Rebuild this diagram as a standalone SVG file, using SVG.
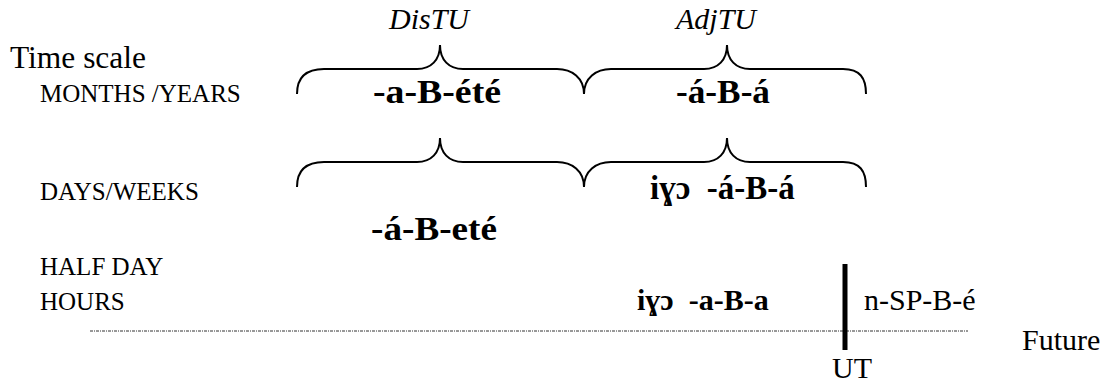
<svg xmlns="http://www.w3.org/2000/svg" width="1104" height="383" viewBox="0 0 1104 383">
  <style>
    text { font-family: "Liberation Serif", "Times New Roman", serif; fill: #000; }
    .unit { font-style: italic; font-size: 30px; }
    .scale { font-size: 25px; }
    .title { font-size: 31px; }
    .form { font-weight: bold; font-size: 33px; }
    .plain { font-size: 30px; }
    .brace { fill: none; stroke: #000; stroke-width: 2; }
    .axis { stroke: #333; stroke-width: 1; stroke-dasharray: 3 1 1 1; fill: none; }
    .ut { stroke: #000; stroke-width: 5; }
  </style>
  <defs>
    <!-- one pair of curly braces spanning both time units -->
    <path id="pair" d="M297,94 C297,78 305,69 324,69 L417,69 C431,69 440,60 440,45 C440,60 449,69 463,69 L557,69 C572,69 584,78 584,94 C584,78 596,69 611,69 L704,69 C718,69 727,60 727,45 C727,60 736,69 750,69 L843,69 C860,69 866,78 866,94"/>
  </defs>

  <g id="labels-units">
    <text class="unit" x="429" y="29" text-anchor="middle">DisTU</text>
    <text class="unit" x="716" y="29" text-anchor="middle">AdjTU</text>
  </g>

  <g id="labels-scale">
    <text class="title" x="10" y="68" textLength="136" lengthAdjust="spacingAndGlyphs">Time scale</text>
    <text class="scale" x="40" y="102">MONTHS /YEARS</text>
    <text class="scale" x="40" y="200">DAYS/WEEKS</text>
    <text class="scale" x="40" y="275">HALF DAY</text>
    <text class="scale" x="40" y="310">HOURS</text>
  </g>

  <g id="connectors">
    <use id="braces-months" href="#pair" class="brace"/>
    <use id="braces-days" href="#pair" class="brace" transform="translate(0,93)"/>
    <line class="axis" x1="90" y1="331" x2="968" y2="331"/>
    <line class="ut" x1="845" y1="264" x2="845" y2="350"/>
  </g>

  <g id="months-years">
    <text class="form" x="373" y="103" textLength="128" lengthAdjust="spacingAndGlyphs">-a-B-été</text>
    <text class="form" x="676" y="103" textLength="94" lengthAdjust="spacingAndGlyphs">-á-B-á</text>
  </g>

  <g id="days-weeks">
    <text class="form" x="650" y="199" xml:space="preserve">iɣɔ  -á-B-á</text>
    <text class="form" x="371" y="240" textLength="126" lengthAdjust="spacingAndGlyphs">-á-B-eté</text>
  </g>

  <g id="hours">
    <text class="form" x="637" y="310" style="font-size:30px" xml:space="preserve">iɣɔ  -a-B-a</text>
    <text class="plain" x="864" y="310">n-SP-B-é</text>
  </g>

  <g id="timeline-labels">
    <text class="plain" x="1022" y="350">Future</text>
    <text class="plain" x="832" y="378">UT</text>
  </g>
</svg>
